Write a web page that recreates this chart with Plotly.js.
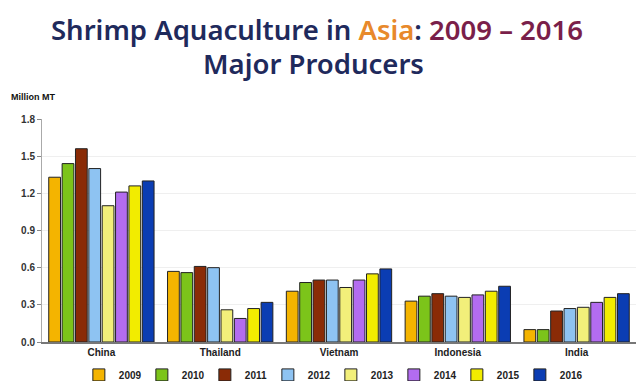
<!DOCTYPE html>
<html>
<head>
<meta charset="utf-8">
<script src="https://cdn.plot.ly/plotly-3.0.1.min.js"></script>
<style>html,body{margin:0;padding:0;background:#fff;}#chart{width:636px;height:381px;}</style>
</head>
<body>
<div id="chart"></div>
<script>
const countries = ["China", "Thailand", "Vietnam", "Indonesia", "India"];
const years = ["2009", "2010", "2011", "2012", "2013", "2014", "2015", "2016"];
const v2009 = [1.33, 0.57, 0.41, 0.33, 0.10];
const v2010 = [1.44, 0.56, 0.48, 0.37, 0.10];
const v2011 = [1.56, 0.61, 0.50, 0.39, 0.25];
const v2012 = [1.40, 0.60, 0.50, 0.37, 0.27];
const v2013 = [1.10, 0.26, 0.44, 0.36, 0.28];
const v2014 = [1.21, 0.19, 0.50, 0.38, 0.32];
const v2015 = [1.26, 0.27, 0.55, 0.41, 0.36];
const v2016 = [1.30, 0.32, 0.59, 0.45, 0.39];
const yTicks = [0, 0.3, 0.6, 0.9, 1.2, 1.5, 1.8];
const yTickLabels = ["0.0", "0.3", "0.6", "0.9", "1.2", "1.5", "1.8"];

const series = [v2009, v2010, v2011, v2012, v2013, v2014, v2015, v2016];
const colors = ["#f4b400", "#7cc41a", "#8a2b06", "#8ec3f2", "#f2ef7a", "#b36cf0", "#f2ec00", "#0b3db3"];

const traces = series.map((vals, i) => ({
  type: "bar",
  name: years[i],
  x: countries,
  y: vals,
  marker: {color: colors[i], line: {color: "#222", width: 1}},
  hoverinfo: "skip"
}));

const layout = {
  width: 636, height: 381,
  margin: {l: 42, r: 0, t: 119, b: 39},
  paper_bgcolor: "#fff", plot_bgcolor: "#fff",
  barmode: "group", bargap: 0.1, bargroupgap: 0.12,
  showlegend: true,
  legend: {
    orientation: "h", xref: "container", yref: "container",
    x: 0.124, xanchor: "left", y: 0.016, yanchor: "middle",
    font: {family: "Liberation Sans, Arial, sans-serif", size: 10, color: "#222", weight: "bold"},
    itemwidth: 30, entrywidth: 18, traceorder: "normal", tracegroupgap: 0,
    itemclick: false, itemdoubleclick: false
  },
  xaxis: {
    type: "category", showgrid: false, zeroline: false,
    showline: true, linecolor: "#777", linewidth: 2,
    ticks: "outside", ticklen: 0,
    tickfont: {family: "Liberation Sans, Arial, sans-serif", size: 10, color: "#222", weight: "bold"},
    fixedrange: true
  },
  yaxis: {
    range: [0, 1.8], tickvals: yTicks, ticktext: yTickLabels,
    showgrid: true, gridcolor: "#efefef", gridwidth: 1,
    zeroline: false, showline: true, linecolor: "#aaa", linewidth: 1,
    ticks: "outside", ticklen: 4, tickcolor: "#888",
    tickfont: {family: "Liberation Sans, Arial, sans-serif", size: 10, color: "#333", weight: "bold"},
    fixedrange: true
  },
  annotations: [
    {xref: "paper", yref: "paper", x: 0.5, y: 1, xanchor: "center", yanchor: "middle",
     yshift: 90, xshift: -22, showarrow: false,
     text: "Shrimp Aquaculture in <span style='color:#e8892b'>Asia</span>: <span style='color:#7a1f4a'>2009 – 2016</span>",
     font: {family: "Noto Sans, sans-serif", size: 27.5, color: "#1f2a5c", weight: 600}},
    {xref: "paper", yref: "paper", x: 0.5, y: 1, xanchor: "center", yanchor: "middle",
     yshift: 56, xshift: -26, showarrow: false,
     text: "Major Producers",
     font: {family: "Noto Sans, sans-serif", size: 27.5, color: "#1f2a5c", weight: 600}},
    {xref: "paper", yref: "paper", x: 0, y: 1, xanchor: "left", yanchor: "middle",
     xshift: -33, yshift: 22, showarrow: false,
     text: "Million MT",
     font: {family: "Liberation Sans, Arial, sans-serif", size: 9, color: "#111", weight: "bold"}}
  ]
};

Plotly.newPlot("chart", traces, layout, {displayModeBar: false, staticPlot: true});
</script>
</body>
</html>
